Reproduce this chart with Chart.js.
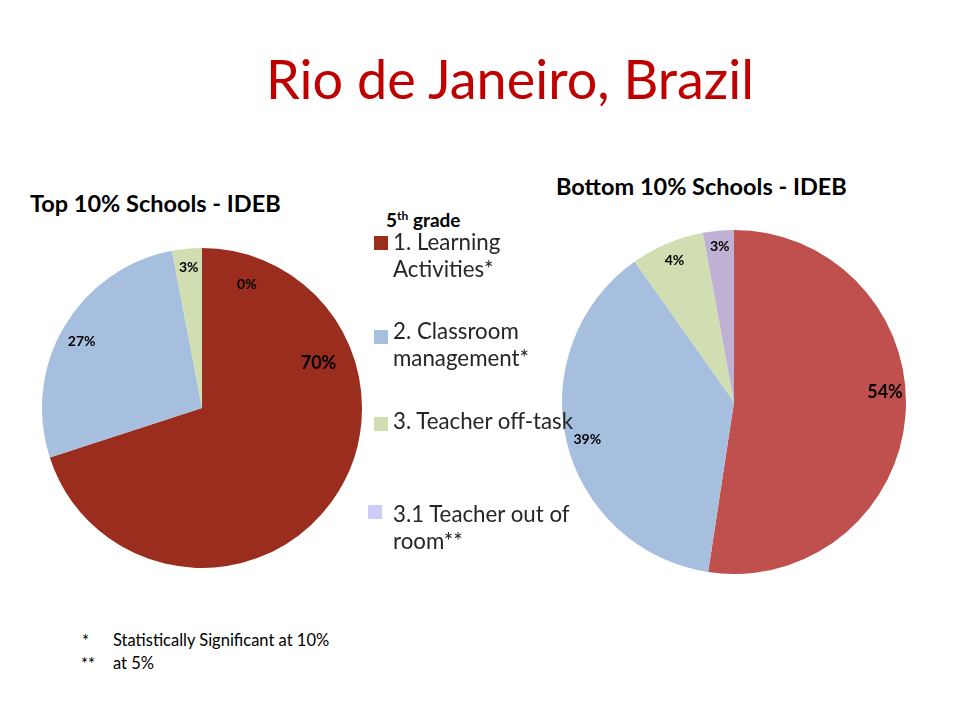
<!DOCTYPE html>
<html>
<head>
<meta charset="utf-8">
<script src="https://cdn.jsdelivr.net/npm/chart.js@4.4.1/dist/chart.umd.min.js"></script>
<style>
  body { margin: 0; background: #fff; font-family: Lato, sans-serif; }
  #page { position: relative; width: 960px; height: 720px; overflow: hidden; }
  .abs { position: absolute; white-space: nowrap; line-height: 1; }
  #title { left: 0; width: 1020px; text-align: center; top: 52px; font-size: 54px; color: #C00000; }
  .sub { font-weight: bold; font-size: 23.5px; color: #000; }
  .legtext { font-size: 22.3px; color: #262626; line-height: 27px; white-space: pre; }
  .sq { position: absolute; }
  .foot { font-size: 16.5px; color: #000; }
</style>
</head>
<body>
<div id="page">
  <div id="title" class="abs">Rio de Janeiro, Brazil</div>
  <div class="abs sub" style="left:30px; top:192px;">Top 10% Schools - IDEB</div>
  <div class="abs sub" style="left:556px; top:175px;">Bottom 10% Schools - IDEB</div>

  <div class="abs" style="left:42px; top:248px; width:320px; height:320px;">
    <canvas id="topPie" width="320" height="320"></canvas>
  </div>
  <div class="abs" style="left:562px; top:230px; width:344px; height:344px;">
    <canvas id="bottomPie" width="344" height="344"></canvas>
  </div>

  <div class="abs" style="left:386px; top:210px; font-weight:bold; font-size:19px;">5<sup style="font-size:12px;">th</sup> grade</div>
  <div id="legend"></div>

  <div class="abs foot" style="left:82px; top:633px;">*</div>
  <div class="abs foot" style="left:113px; top:632px;">Statistically Significant at 10%</div>
  <div class="abs foot" style="left:81px; top:656px;">**</div>
  <div class="abs foot" style="left:113px; top:655px;">at 5%</div>
</div>

<script>
// categories (line breaks as on the slide)
const categories = ['1. Learning\nActivities*', '2. Classroom\nmanagement*', '3. Teacher off-task', '3.1 Teacher out of\nroom**'];

// top 10% schools
const topValues = [70, 27, 3, 0];
const topLabels = ['70%', '27%', '3%', '0%'];

// bottom 10% schools (slice sizes as drawn, labels as printed)
const bottomValues = [52.4, 37.8, 6.9, 2.9];
const bottomLabels = ['54%', '39%', '4%', '3%'];

const topColors = ['#9B2D1F', '#A7BFDE', '#D0DEB1', '#C3B6D8'];
const bottomColors = ['#C0504D', '#A7BFDE', '#D0DEB1', '#BFB1D3'];
const legendColors = ['#9B2D1F', '#A7BFDE', '#D0DEB1', '#CCCCF7'];

// legend layout
const legendSqTops = [236, 330, 417, 505];
const legendSqLeft = [374, 374, 374, 368];
const legendTextTops = [228, 317, 407, 500];

const legend = document.getElementById('legend');
categories.forEach(function (c, i) {
    var sq = document.createElement('div');
    sq.className = 'sq';
    sq.style.cssText = 'left:' + legendSqLeft[i] + 'px;top:' + legendSqTops[i] + 'px;width:14px;height:14px;background:' + legendColors[i];
    legend.appendChild(sq);
    var t = document.createElement('div');
    t.className = 'abs legtext';
    t.style.left = '393px';
    t.style.top = legendTextTops[i] + 'px';
    t.textContent = c;
    legend.appendChild(t);
});

// draws the percentage labels; pos = [angle offset (deg), radius fraction, font size]
const sliceLabels = {
    id: 'sliceLabels',
    afterDatasetsDraw(chart, args, opts) {
        const c = chart.ctx;
        const arcs = chart.getDatasetMeta(0).data;
        c.save();
        c.fillStyle = '#000';
        c.textAlign = 'center';
        c.textBaseline = 'middle';
        arcs.forEach(function (arc, i) {
            const p = opts.pos[i];
            const a = (arc.startAngle + arc.endAngle) / 2 + p[0] * Math.PI / 180;
            const r = arc.outerRadius * p[1];
            c.font = 'bold ' + p[2] + 'px Lato';
            c.fillText(opts.text[i], arc.x + Math.cos(a) * r, arc.y + Math.sin(a) * r);
        });
        c.restore();
    }
};

function makePie(id, values, colors, text, pos) {
    return new Chart(document.getElementById(id), {
        type: 'pie',
        data: {
            labels: categories,
            datasets: [{
                data: values,
                backgroundColor: colors,
                borderWidth: 0
            }]
        },
        options: {
            responsive: false,
            animation: false,
            layout: { padding: 0 },
            plugins: {
                legend: { display: false },
                tooltip: { enabled: false },
                sliceLabels: { text: text, pos: pos }
            }
        },
        plugins: [sliceLabels]
    });
}

makePie('topPie', topValues, topColors, topLabels,
    [[-57, 0.78, 18], [-1.6, 0.86, 14], [0, 0.88, 14], [20, 0.82, 14]]);
makePie('bottomPie', bottomValues, bottomColors, bottomLabels,
    [[-8, 0.88, 18], [-1, 0.88, 14], [0, 0.89, 14], [0, 0.91, 14]]);
</script>
</body>
</html>
